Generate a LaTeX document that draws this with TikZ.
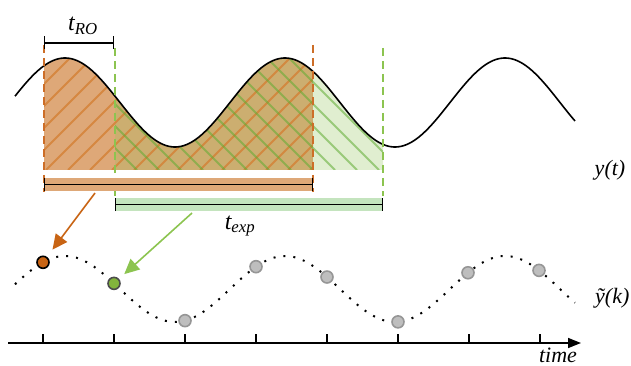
\documentclass[tikz,border=0pt]{standalone}
\usepackage{fontspec}
\setmainfont{Liberation Serif}
\usetikzlibrary{arrows.meta}
\definecolor{orfill}{RGB}{222,168,120}
\definecolor{ovfill}{RGB}{204,174,112}
\definecolor{grfill}{RGB}{224,238,208}
\definecolor{orline}{RGB}{205,110,40}
\definecolor{orhatch}{RGB}{212,128,52}
\definecolor{grhatch}{RGB}{95,172,50}
\definecolor{grline}{RGB}{140,196,80}
\definecolor{grbar}{RGB}{196,228,190}
\definecolor{ordot}{RGB}{200,100,20}
\definecolor{grdot}{RGB}{130,180,60}
\definecolor{gydot}{RGB}{190,190,190}
\definecolor{gyedge}{RGB}{150,150,150}
\tikzset{
  curve/.style={line width=1.6pt, black},
  samplecurve/.style={line width=2pt, dash pattern=on 2pt off 8pt, black},
  ordash/.style={orline, line width=1.5pt, dash pattern=on 8pt off 5pt},
  grdash/.style={grline, line width=1.5pt, dash pattern=on 8pt off 5pt},
  orh/.style={orhatch, line width=2pt, opacity=0.8},
  grh/.style={grhatch, line width=2pt, opacity=0.55},
  span/.style={line width=1.4pt, {Bar[width=13pt]}-{Bar[width=13pt]}},
  dotbase/.style={circle, minimum size=12pt, inner sep=0pt, line width=1.6pt},
  ordotst/.style={dotbase, fill=ordot, draw=black},
  grdotst/.style={dotbase, fill=grdot, draw=black!70},
  gydotst/.style={dotbase, fill=gydot, draw=gyedge},
  orarrow/.style={ordot, line width=1.6pt, -{Triangle[length=15pt,width=14pt]}},
  grarrow/.style={grline, line width=1.6pt, -{Triangle[length=15pt,width=14pt]}},
  lbl/.style={font=\fontsize{22}{26}\selectfont\itshape, inner sep=0pt},
  tlbl/.style={font=\fontsize{24}{28}\selectfont\itshape, inner sep=0pt},
}
\begin{document}
\begin{tikzpicture}[x=1pt,y=-1pt,
  declare function={fy(\x)=102.5-44.5*cos(1.636364*(\x-65)); gy(\x)=289-33*cos(1.636364*(\x-65));}]
\useasboundingbox (0,0) rectangle (631,366);
% fills
\fill[orfill] (44,170) -- plot[domain=44:115,samples=40] (\x,{fy(\x)}) -- (115,170) -- cycle;
\fill[ovfill] (115,170) -- plot[domain=115:313,samples=100] (\x,{fy(\x)}) -- (313,170) -- cycle;
\fill[grfill] (313,170) -- plot[domain=313:383,samples=40] (\x,{fy(\x)}) -- (383,170) -- cycle;
% hatches
\begin{scope}
\clip (44,170) -- plot[domain=44:313,samples=100] (\x,{fy(\x)}) -- (313,170) -- cycle;
\foreach \i in {0,...,20} \draw[orh] ({-86+22*\i},170) -- ++(130,-130);
\end{scope}
\begin{scope}
\clip (115,170) -- plot[domain=115:383,samples=100] (\x,{fy(\x)}) -- (383,170) -- cycle;
\foreach \i in {0,...,19} \draw[grh] ({115+22*\i},170) -- ++(-130,-130);
\end{scope}
% continuous signal
\draw[curve] plot[domain=15:575,samples=220] (\x,{fy(\x)});
% dashed markers
\draw[ordash] (44,45) -- (44,192);
\draw[grdash] (115,48) -- (115,196);
\draw[ordash] (313,45) -- (313,192);
\draw[grdash] (383,48) -- (383,196);
% t_RO bracket
\coordinate (ra) at (44,43);
\coordinate (rb) at (114,43);
\draw[span] (ra) -- (rb);
\node[tlbl] (tro) at (83,26) {t\textsubscript{RO}};
% bars
\fill[orfill] (44,178) rectangle (313,191);
\coordinate (oba) at (44,184.5);
\coordinate (obb) at (313,184.5);
\draw[span] (oba) -- (obb);
\fill[grbar] (115,198) rectangle (383,211);
\coordinate (gba) at (115,204.5);
\coordinate (gbb) at (383,204.5);
\draw[span] (gba) -- (gbb);
\node[tlbl] (texp) at (240,226) {t\textsubscript{exp}};
% sampled signal
\draw[samplecurve] plot[domain=15:575,samples=220] (\x,{gy(\x)});
\node[ordotst] (d1) at (43,{gy(43)}) {};
\node[grdotst] (d2) at (114,{gy(114)}) {};
\foreach \x/\n in {185/d3,256/d4,327/d5,398/d6,468/d7,539/d8}
  \node[gydotst] (\n) at (\x,{gy(\x)}) {};
% arrows
\coordinate (oa) at (95,193);
\coordinate (ga) at (192,213);
\draw[orarrow, shorten >=9pt] (oa) -- (d1);
\draw[grarrow, shorten >=7pt] (ga) -- (d2);
% labels
\node[lbl] (yt) at (610,170) {y(t)};
\node[lbl, anchor=west] (yk) at (595,298) {ỹ(k)};
% time axis
\coordinate (axs) at (8,343);
\coordinate (axe) at (581,343);
\draw[line width=1.5pt, -{Triangle[length=13pt,width=10pt]}] (axs) -- (axe);
\foreach \x in {43,114,185,256,327,398,469,540} \draw[line width=1.5pt] (\x,334) -- (\x,343);
\node[lbl] (time) at (558,355) {time};
\end{tikzpicture}
\end{document}
